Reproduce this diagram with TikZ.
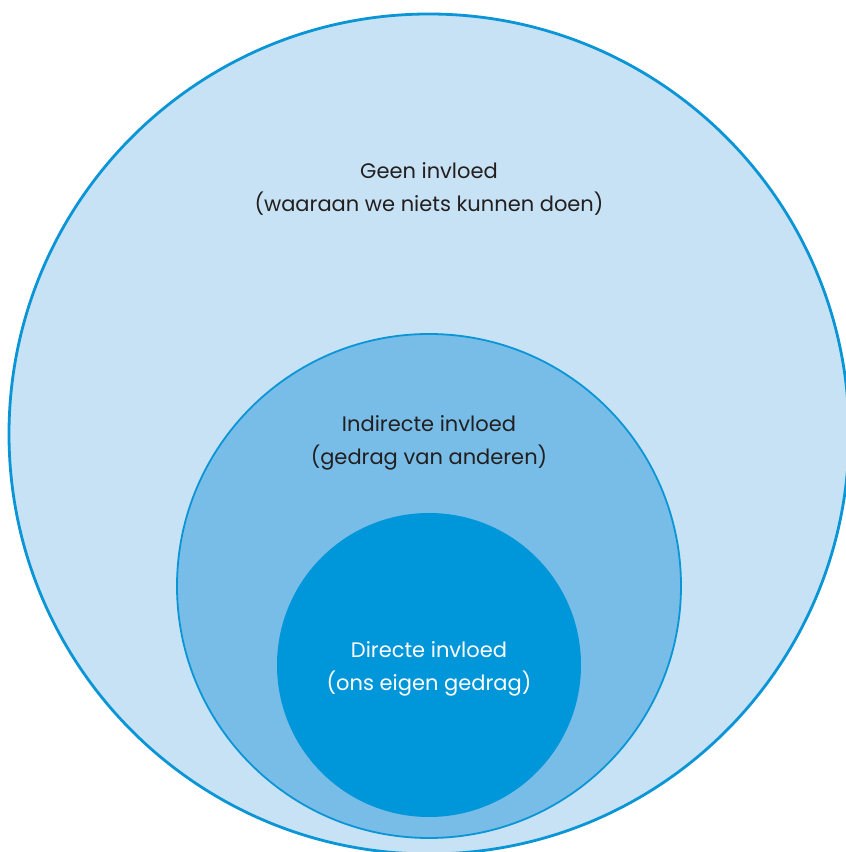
\documentclass[tikz,border=0pt]{standalone}
\usepackage{fontspec}
\setmainfont{Poppins}
\definecolor{ringline}{HTML}{0A95D6}
\definecolor{outerfill}{HTML}{C7E2F4}
\definecolor{midfill}{HTML}{77BDE7}
\definecolor{innerfill}{HTML}{0096DA}
\definecolor{labeltext}{HTML}{231F20}
\tikzset{
  ring/.style={circle, inner sep=0pt, outer sep=0pt},
  label text/.style={align=center, font=\fontsize{21}{33}\selectfont, text=labeltext, inner sep=0pt}
}
\begin{document}
\begin{tikzpicture}[x=1pt, y=1pt]
  \useasboundingbox (0,0) rectangle (846,852);
  \clip (0,0) rectangle (846,852);
  \fill[white] (0,0) rectangle (846,852);
  % three nested spheres of influence
  \node[ring, fill=outerfill, draw=ringline, line width=2.8pt, minimum size=840pt] (outer) at (429,418) {};
  \node[ring, fill=midfill, draw=ringline, line width=1.8pt, minimum size=504pt] (mid) at (429,266) {};
  \node[ring, fill=innerfill, minimum size=304pt] (inner) at (429,187) {};
  % labels
  \node[label text] (geen) at (429,663) {Geen invloed\\(waaraan we niets kunnen doen)};
  \node[label text] (indirect) at (429,409.5) {Indirecte invloed\\(gedrag van anderen)};
  \node[label text, text=white] (direct) at (429,183.5) {Directe invloed\\(ons eigen gedrag)};
\end{tikzpicture}
\end{document}
